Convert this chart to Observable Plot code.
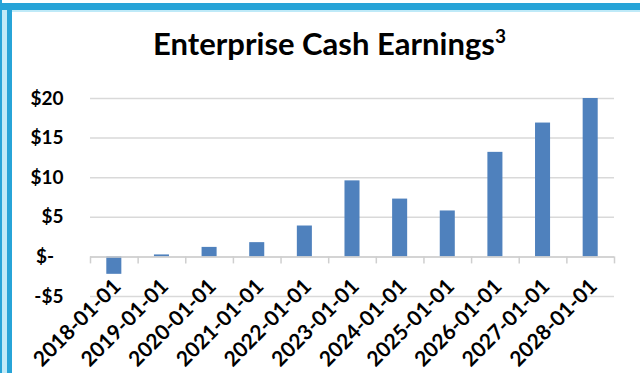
<!DOCTYPE html>
<html>
<head>
<meta charset="utf-8">
<script src="https://cdn.jsdelivr.net/npm/d3@7"></script>
<script src="https://cdn.jsdelivr.net/npm/@observablehq/plot@0.6"></script>
<style>
html, body { margin: 0; padding: 0; background: #fff; }
#wrap { position: relative; width: 640px; height: 373px; overflow: hidden; background: #fff; font-family: Lato, "Open Sans", sans-serif; }
.b { position: absolute; }
#title { position: absolute; left: 0; top: 28px; width: 640px; padding-left: 19px; box-sizing: border-box; text-align: center; font-size: 31px; line-height: 31px; font-weight: bold; color: #000; white-space: nowrap; }
#title .sup { font-size: 19px; position: relative; top: -12px; }
#chart { position: absolute; left: 0; top: 0; }
</style>
</head>
<body>
<div id="wrap">
  <div id="chart"></div>
  <div class="b" style="left:0;top:3px;width:640px;height:7px;background:#27a4d8;"></div>
  <div class="b" style="left:0;top:10px;width:640px;height:2px;background:#bfeaf8;"></div>
  <div class="b" style="left:0;top:0;width:2px;height:373px;background:#27a4d8;"></div>
  <div class="b" style="left:2px;top:10px;width:5px;height:363px;background:#bfeaf8;"></div>
  <div class="b" style="left:7px;top:3px;width:5px;height:370px;background:#27a4d8;"></div>
  <div id="title">Enterprise Cash Earnings<span class="sup">3</span></div>
</div>
<script>
const dates = ["2018-01-01", "2019-01-01", "2020-01-01", "2021-01-01", "2022-01-01", "2023-01-01", "2024-01-01", "2025-01-01", "2026-01-01", "2027-01-01", "2028-01-01"];
const earnings = [-2.2, 0.25, 1.2, 1.8, 3.9, 9.6, 7.3, 5.8, 13.2, 16.9, 20.0];
const yTicks = [-5, 0, 5, 10, 15, 20];
const yTickLabels = ["-$5", "$-\u2002", "$5", "$10", "$15", "$20"];

const data = dates.map((d, i) => ({date: d, i: i, value: earnings[i]}));
const font = 'Lato, "Open Sans", sans-serif';

const chart = Plot.plot({
  width: 640,
  height: 373,
  marginLeft: 90,
  marginRight: 26,
  marginTop: 98,
  marginBottom: 77,
  x: {domain: [0, dates.length], axis: null},
  y: {domain: [-5, 20], axis: null},
  style: {fontFamily: font, fontWeight: "bold", color: "#000", background: "transparent", overflow: "visible"},
  marks: [
    Plot.gridY(yTicks, {stroke: "#d9d9d9", strokeOpacity: 1, strokeWidth: 1.5}),
    Plot.axisY(yTicks, {label: null, tickSize: 0, tickPadding: 27, tickFormat: d => yTickLabels[yTicks.indexOf(d)], fontSize: 19, fontWeight: "bold", fill: "#000"}),
    Plot.rectY(data, {x1: "i", x2: d => d.i + 1, y1: 0, y2: "value", fill: "#4f81bd", insetLeft: 16.3, insetRight: 16.3}),
    Plot.ruleY([0], {stroke: "#cfcfcf", strokeWidth: 1.5}),
    Plot.ruleX(d3.range(dates.length + 1), {y1: 0, y2: 0, insetBottom: -7, stroke: "#cfcfcf", strokeWidth: 1.5}),
    Plot.text(data, {x: d => d.i + 0.5, y: 0, text: "date", rotate: -45, textAnchor: "end", dx: 3, dy: 26, fontSize: 21, fontWeight: "bold", fill: "#000"})
  ]
});
document.getElementById("chart").appendChild(chart);
</script>
</body>
</html>
